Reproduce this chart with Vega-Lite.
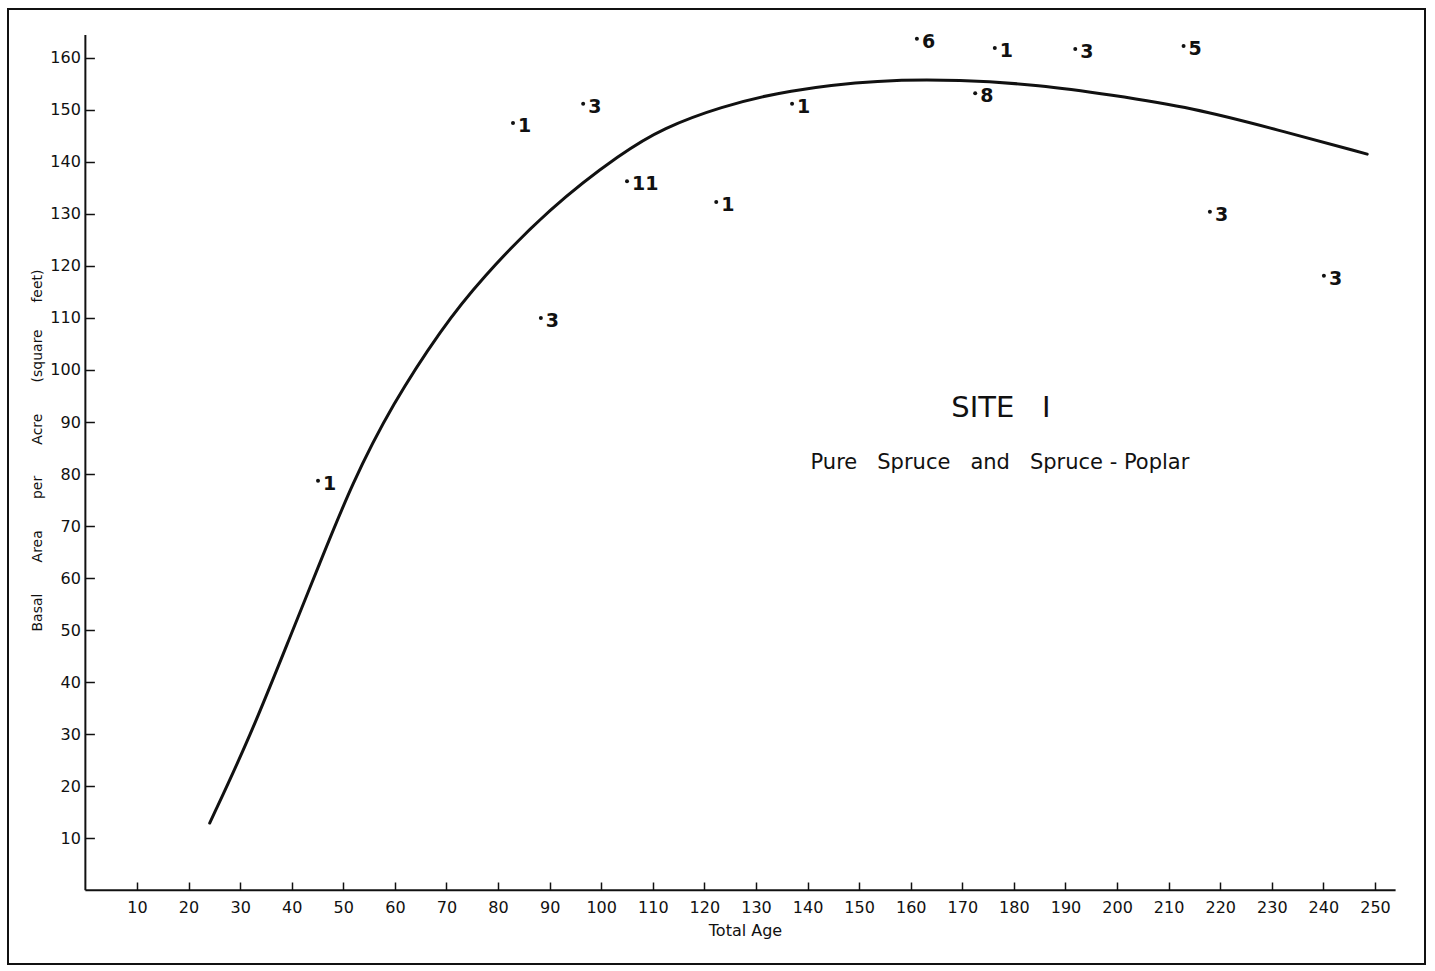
{
  "$schema": "https://vega.github.io/schema/vega-lite/v6.json",
  "width": 1417,
  "height": 955,
  "autosize": {"type": "none"},
  "padding": {"left": 8, "top": 9, "right": 10, "bottom": 7},
  "background": "white",
  "config": {
    "view": {"stroke": "#111", "strokeWidth": 2},
    "font": "DejaVu Sans"
  },
  "datasets": {
    "curve": [
      {"age": 24.1, "ba": 12.9},
      {"age": 31.9, "ba": 29.4},
      {"age": 40.2, "ba": 50.0},
      {"age": 44.9, "ba": 61.5},
      {"age": 51.7, "ba": 78.3},
      {"age": 59.6, "ba": 93.6},
      {"age": 69.1, "ba": 108.0},
      {"age": 76.5, "ba": 117.3},
      {"age": 90.1, "ba": 131.3},
      {"age": 104.2, "ba": 141.9},
      {"age": 112.0, "ba": 146.5},
      {"age": 123.0, "ba": 150.6},
      {"age": 136.0, "ba": 153.8},
      {"age": 154.0, "ba": 155.8},
      {"age": 169.5, "ba": 155.8},
      {"age": 185.1, "ba": 154.8},
      {"age": 198.6, "ba": 152.9},
      {"age": 214.7, "ba": 150.4},
      {"age": 231.0, "ba": 146.2},
      {"age": 248.5, "ba": 141.5}
    ],
    "plots": [
      {"age": 45.1, "ba": 78.7, "n": "1"},
      {"age": 82.9, "ba": 147.5, "n": "1"},
      {"age": 96.5, "ba": 151.2, "n": "3"},
      {"age": 88.3, "ba": 110.0, "n": "3"},
      {"age": 105.0, "ba": 136.3, "n": "11"},
      {"age": 122.3, "ba": 132.3, "n": "1"},
      {"age": 137.0, "ba": 151.2, "n": "1"},
      {"age": 161.2, "ba": 163.7, "n": "6"},
      {"age": 172.5, "ba": 153.2, "n": "8"},
      {"age": 176.3, "ba": 161.9, "n": "1"},
      {"age": 191.9, "ba": 161.7, "n": "3"},
      {"age": 212.9, "ba": 162.3, "n": "5"},
      {"age": 218.0, "ba": 130.4, "n": "3"},
      {"age": 240.1, "ba": 118.1, "n": "3"}
    ]
  },
  "layer": [
    {
      "data": {"name": "curve"},
      "mark": {"type": "line", "interpolate": "basis", "color": "#111", "strokeWidth": 3, "strokeCap": "round"},
      "encoding": {
        "x": {
          "field": "age",
          "type": "quantitative",
          "scale": {"domain": [-15, 259.7], "nice": false, "zero": false},
          "axis": {
            "values": [10, 20, 30, 40, 50, 60, 70, 80, 90, 100, 110, 120, 130, 140, 150, 160, 170, 180, 190, 200, 210, 220, 230, 240, 250],
            "title": "Total Age",
            "domain": false,
            "grid": false,
            "ticks": true,
            "tickSize": -8,
            "tickWidth": 1.5,
            "tickColor": "#111",
            "labelPadding": 17,
            "labelFontSize": 16,
            "labelColor": "#111",
            "labelFlush": false,
            "labelOverlap": false,
            "offset": -74,
            "titleX": 737,
            "titleY": 40,
            "titleBaseline": "middle",
            "titleAlign": "center",
            "titleFontSize": 16,
            "titleFontWeight": "normal",
            "titleColor": "#111"
          }
        },
        "y": {
          "field": "ba",
          "type": "quantitative",
          "scale": {"domain": [-14.2, 169.4], "nice": false, "zero": false},
          "axis": {
            "values": [10, 20, 30, 40, 50, 60, 70, 80, 90, 100, 110, 120, 130, 140, 150, 160],
            "title": "Basal\u00a0\u00a0\u00a0\u00a0\u00a0\u00a0 Area\u00a0\u00a0\u00a0\u00a0\u00a0\u00a0 per\u00a0\u00a0\u00a0\u00a0\u00a0\u00a0 Acre\u00a0\u00a0\u00a0\u00a0\u00a0\u00a0 (square\u00a0\u00a0\u00a0\u00a0\u00a0 feet)",
            "domain": false,
            "grid": false,
            "tickSize": -9,
            "tickWidth": 1.5,
            "tickColor": "#111",
            "labelPadding": 14,
            "labelFontSize": 16,
            "labelColor": "#111",
            "labelFlush": false,
            "labelOverlap": false,
            "offset": -77.4,
            "titleX": -48,
            "titleY": 441,
            "titleAngle": -90,
            "titleBaseline": "middle",
            "titleAlign": "center",
            "titleFontSize": 14,
            "titleFontWeight": "normal",
            "titleColor": "#111"
          }
        }
      }
    },
    {
      "data": {"values": [{}]},
      "mark": {"type": "rule", "color": "#111", "strokeWidth": 2},
      "encoding": {
        "x": {"datum": 0, "type": "quantitative"},
        "x2": {"datum": 254},
        "y": {"datum": 0, "type": "quantitative"}
      }
    },
    {
      "data": {"values": [{}]},
      "mark": {"type": "rule", "color": "#111", "strokeWidth": 2},
      "encoding": {
        "x": {"datum": 0, "type": "quantitative"},
        "y": {"datum": 0, "type": "quantitative"},
        "y2": {"datum": 164.4}
      }
    },
    {
      "data": {"name": "plots"},
      "mark": {"type": "circle", "color": "#111", "opacity": 1, "size": 16},
      "encoding": {
        "x": {"field": "age", "type": "quantitative"},
        "y": {"field": "ba", "type": "quantitative"}
      }
    },
    {
      "data": {"name": "plots"},
      "mark": {"type": "text", "align": "left", "baseline": "middle", "dx": 5, "dy": 3, "fontSize": 19, "fontWeight": "bold", "color": "#111"},
      "encoding": {
        "x": {"field": "age", "type": "quantitative"},
        "y": {"field": "ba", "type": "quantitative"},
        "text": {"field": "n", "type": "nominal"}
      }
    },
    {
      "data": {"values": [{}]},
      "mark": {"type": "text", "text": "SITE\u00a0\u00a0 I", "align": "center", "baseline": "middle", "fontSize": 29, "color": "#111"},
      "encoding": {
        "x": {"datum": 177.5, "type": "quantitative"},
        "y": {"datum": 92.7, "type": "quantitative"}
      }
    },
    {
      "data": {"values": [{}]},
      "mark": {"type": "text", "text": "Pure\u00a0\u00a0 Spruce\u00a0\u00a0 and\u00a0\u00a0 Spruce\u00a0-\u00a0Poplar", "align": "center", "baseline": "middle", "fontSize": 21, "color": "#111"},
      "encoding": {
        "x": {"datum": 177.3, "type": "quantitative"},
        "y": {"datum": 82.1, "type": "quantitative"}
      }
    }
  ]
}
